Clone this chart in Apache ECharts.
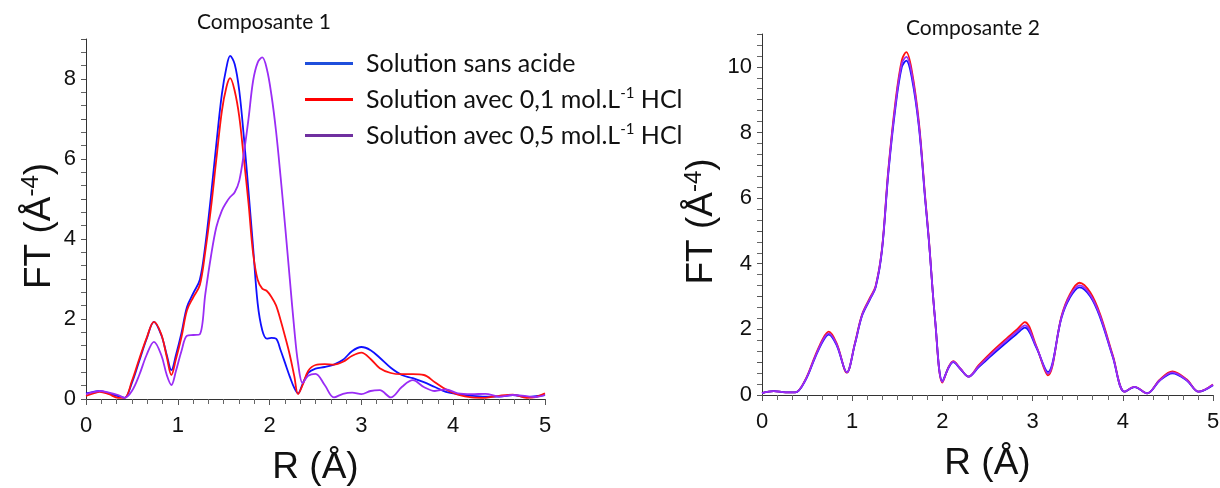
<!DOCTYPE html>
<html>
<head>
<meta charset="utf-8">
<script src="https://cdn.jsdelivr.net/npm/echarts@6/dist/echarts.min.js"></script>
<style>
  html, body { margin: 0; padding: 0; background: #fff; }
  #chart { width: 1220px; height: 488px; }
</style>
</head>
<body>
<div id="chart"></div>
<script>
// Composante 1
const rLeft = [0, 0.08, 0.15, 0.25, 0.35, 0.42, 0.5, 0.58, 0.66, 0.74, 0.82, 0.88, 0.93, 0.98, 1.04, 1.1, 1.17, 1.24, 1.3, 1.36,
  1.42, 1.48, 1.53, 1.57, 1.62, 1.67, 1.72, 1.77, 1.82, 1.87, 1.92, 1.97, 2.02, 2.07, 2.12, 2.17, 2.22, 2.27, 2.31, 2.36,
  2.42, 2.5, 2.6, 2.7, 2.8, 2.9, 3.0, 3.1, 3.2, 3.32, 3.44, 3.56, 3.68, 3.8, 3.92, 4.05, 4.2, 4.35, 4.5, 4.65, 4.8, 4.9, 5.0];
const sansAcide1 = [0.14, 0.18, 0.2, 0.14, 0.07, 0.03, 0.4, 0.95, 1.5, 1.93, 1.6, 1.1, 0.72, 1.1, 1.65, 2.3, 2.65, 2.98, 3.85, 5.05,
  6.38, 7.62, 8.29, 8.58, 8.37, 7.7, 6.54, 5.2, 3.8, 2.39, 1.72, 1.51, 1.53, 1.51, 1.22, 0.89, 0.56, 0.27, 0.14, 0.38,
  0.65, 0.76, 0.8, 0.86, 0.98, 1.2, 1.3, 1.22, 1.03, 0.78, 0.6, 0.52, 0.42, 0.3, 0.18, 0.12, 0.08, 0.06, 0.06, 0.1, 0.05, 0.07, 0.1];
const hcl01_1 = [0.08, 0.14, 0.18, 0.12, 0.03, 0.03, 0.45, 1.0, 1.52, 1.93, 1.62, 1.05, 0.6, 1.0, 1.55, 2.22, 2.55, 2.85, 3.7, 4.75,
  6.0, 7.2, 7.8, 8.02, 7.7, 7.05, 6.0, 4.9, 3.65, 2.98, 2.76, 2.7, 2.55, 2.34, 1.97, 1.55, 1.1, 0.56, 0.12, 0.35,
  0.7, 0.85, 0.87, 0.86, 0.93, 1.08, 1.16, 1.0, 0.77, 0.65, 0.62, 0.62, 0.6, 0.42, 0.24, 0.11, 0.04, 0.03, 0.08, 0.11, 0.03, 0.05, 0.14];
const hcl05_1 = [0.12, 0.17, 0.2, 0.16, 0.1, 0.03, 0.2, 0.6, 1.1, 1.43, 1.1, 0.6, 0.35, 0.7, 1.2, 1.58, 1.6, 1.62, 2.63, 3.55,
  4.3, 4.71, 4.92, 5.05, 5.17, 5.46, 6.15, 7.0, 7.95, 8.41, 8.54, 8.25, 7.6, 6.7, 5.55, 4.3, 3.0, 1.72, 0.9, 0.4,
  0.58, 0.63, 0.35, 0.04, 0.13, 0.16, 0.12, 0.2, 0.22, 0.04, 0.3, 0.47, 0.3, 0.2, 0.24, 0.14, 0.12, 0.13, 0.06, 0.1, 0.07, 0.05, 0.1];

// Composante 2
const rRight = [0, 0.13, 0.26, 0.37, 0.48, 0.59, 0.68, 0.74, 0.83, 0.94, 1.03, 1.11, 1.2, 1.26, 1.33, 1.4, 1.48, 1.55, 1.6, 1.66,
  1.74, 1.81, 1.85, 1.92, 2.0, 2.07, 2.12, 2.2, 2.29, 2.4, 2.55, 2.71, 2.82, 2.915, 3.04, 3.17, 3.32, 3.41, 3.52, 3.64,
  3.75, 3.89, 4.02, 4.13, 4.27, 4.41, 4.55, 4.71, 4.84, 5.0];
const sansAcide2 = [0.06, 0.12, 0.08, 0.08, 0.44, 1.15, 1.66, 1.84, 1.5, 0.69, 1.55, 2.42, 2.93, 3.28, 4.4, 6.74, 8.77, 9.99, 10.19, 9.68,
  8.16, 5.92, 4.7, 2.27, 0.42, 0.84, 1.0, 0.79, 0.56, 0.84, 1.22, 1.6, 1.85, 2.05, 1.45, 0.7, 2.35, 2.95, 3.28, 3.0,
  2.35, 1.15, 0.1, 0.24, 0.05, 0.44, 0.66, 0.44, 0.1, 0.3];
const hcl01_2 = [0.06, 0.12, 0.08, 0.08, 0.46, 1.2, 1.74, 1.93, 1.56, 0.68, 1.58, 2.46, 2.98, 3.32, 4.45, 6.85, 8.95, 10.2, 10.45, 9.9,
  8.3, 6.0, 4.75, 2.25, 0.38, 0.86, 1.03, 0.8, 0.56, 0.9, 1.32, 1.72, 1.98, 2.22, 1.5, 0.6, 2.4, 3.05, 3.42, 3.12,
  2.45, 1.2, 0.1, 0.25, 0.05, 0.47, 0.72, 0.47, 0.1, 0.32];
const hcl05_2 = [0.06, 0.12, 0.08, 0.08, 0.45, 1.17, 1.7, 1.88, 1.53, 0.69, 1.56, 2.44, 2.95, 3.3, 4.42, 6.8, 8.86, 10.1, 10.3, 9.8,
  8.22, 5.96, 4.72, 2.26, 0.4, 0.85, 1.02, 0.8, 0.56, 0.87, 1.27, 1.66, 1.92, 2.12, 1.48, 0.65, 2.37, 3.0, 3.34, 3.05,
  2.4, 1.17, 0.1, 0.25, 0.05, 0.45, 0.69, 0.45, 0.1, 0.31];

const names = ['Solution sans acide', 'Solution avec 0,1 mol.L-1 HCl', 'Solution avec 0,5 mol.L-1 HCl'];
const lineColors = ['#1010ff', '#ff1010', '#9a2cf5'];
const legendColors = ['#1f4fdc', '#ff0000', '#7030a0'];

const chart = echarts.init(document.getElementById('chart'));

const toPairs = (xs, ys) => xs.map((x, i) => [x, ys[i]]);

function xAxisFor(gridIndex) {
  return {
    type: 'value', gridIndex: gridIndex, min: 0, max: 5, interval: 1,
    name: 'R (Å)', nameLocation: 'middle', nameGap: 50,
    nameTextStyle: { fontFamily: 'Liberation Sans', fontSize: 37, color: '#111' },
    axisLine: { onZero: false, lineStyle: { color: '#333', width: 1 } },
    axisTick: { length: 6, lineStyle: { color: '#555' } },
    minorTick: { show: true, splitNumber: 6, length: 5, lineStyle: { color: '#666' } },
    axisLabel: { fontFamily: 'Liberation Sans', fontSize: 22, color: '#111', margin: 16 },
    splitLine: { show: false }
  };
}

function yAxisFor(gridIndex, max, gap) {
  return {
    type: 'value', gridIndex: gridIndex, min: 0, max: max, interval: 1,
    name: 'FT (Å{sup|-4})', nameLocation: 'middle', nameGap: gap,
    nameTextStyle: {
      fontFamily: 'Liberation Sans', fontSize: 37, color: '#111', lineHeight: 40, padding: [0, 14, 0, 0],
      rich: { sup: { fontFamily: 'Liberation Sans', fontSize: 24, color: '#111', verticalAlign: 'top', lineHeight: 40 } }
    },
    axisLine: { show: true, lineStyle: { color: '#333', width: 1 } },
    axisTick: { length: 5, lineStyle: { color: '#555' } },
    minorTick: { show: true, splitNumber: 3, length: 5, lineStyle: { color: '#666' } },
    axisLabel: {
      fontFamily: 'Liberation Sans', fontSize: 22, color: '#111', margin: 10,
      formatter: v => (v % 2 === 0 ? String(v) : '')
    },
    splitLine: { show: false }
  };
}

function lineSeries(i, xi, xs, ys) {
  return {
    name: names[i], type: 'line', xAxisIndex: xi, yAxisIndex: xi,
    data: toPairs(xs, ys), smooth: 0.35, symbol: 'none',
    lineStyle: { color: lineColors[i], width: 1.8 },
    itemStyle: { color: lineColors[i] },
    animation: false
  };
}

chart.setOption({
  animation: false,
  title: [
    { text: 'Composante 1', left: 264, top: 12, textAlign: 'center', padding: 0,
      textStyle: { fontFamily: 'Lato', fontSize: 21, fontWeight: 'normal', color: '#111' } },
    { text: 'Composante 2', left: 973, top: 18, textAlign: 'center', padding: 0,
      textStyle: { fontFamily: 'Lato', fontSize: 21, fontWeight: 'normal', color: '#111' } }
  ],
  legend: {
    orient: 'vertical', left: 305, top: 50, padding: 0,
    icon: 'rect', itemWidth: 48, itemHeight: 3, itemGap: 9,
    data: names.map((n, i) => ({ name: n, itemStyle: { color: legendColors[i] } })),
    formatter: n => n.replace('L-1', 'L{sup|-1}'),
    textStyle: {
      fontFamily: 'Lato', fontSize: 25, color: '#111', lineHeight: 27, padding: [0, 0, 0, 8],
      rich: { sup: { fontFamily: 'Lato', fontSize: 15, color: '#111', verticalAlign: 'top', lineHeight: 27 } }
    }
  },
  grid: [
    { left: 86, top: 39, width: 459, height: 360, outerBoundsMode: 'none', containLabel: false },
    { left: 762, top: 34, width: 451, height: 361, outerBoundsMode: 'none', containLabel: false }
  ],
  xAxis: [xAxisFor(0), xAxisFor(1)],
  yAxis: [yAxisFor(0, 9, 26), yAxisFor(1, 11, 40)],
  series: [
    lineSeries(0, 0, rLeft, sansAcide1),
    lineSeries(1, 0, rLeft, hcl01_1),
    lineSeries(2, 0, rLeft, hcl05_1),
    lineSeries(1, 1, rRight, hcl01_2),
    lineSeries(0, 1, rRight, sansAcide2),
    lineSeries(2, 1, rRight, hcl05_2)
  ]
});
</script>
</body>
</html>
